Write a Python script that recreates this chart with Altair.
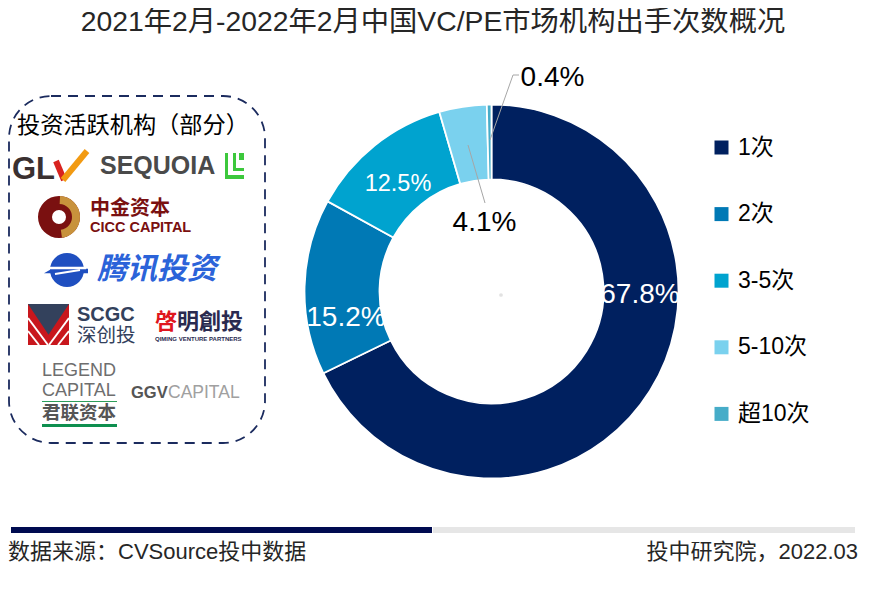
import altair as alt
import pandas as pd

# ---- data ----
categories = ["1次", "2次", "3-5次", "5-10次", "超10次"]
shares = [67.8, 15.2, 12.5, 4.1, 0.4]
colors = ["#00205F", "#0079B5", "#00A3CF", "#7AD1EE", "#46ACC8"]
title_text = "2021年2月-2022年2月中国VC/PE市场机构出手次数概况"
box_title = "投资活跃机构（部分）"
source_text = "数据来源：CVSource投中数据"
credit_text = "投中研究院，2022.03"

FONT = "Liberation Sans, Noto Sans CJK SC"
CJK = "Noto Sans CJK SC, Liberation Sans"
cx, cy = 491.5 - 8, 291.5 - 8


def px(v):
    return alt.value(v - 8)


def base():
    return alt.Chart(alt.Data(values=[{"k": 1}]))


def T(text, x, y, size, color="#000000", align="center", weight="normal", font=FONT, style="normal"):
    return base().mark_text(
        text=text, fontSize=size, color=color, align=align, baseline="middle",
        fontWeight=weight, font=font, fontStyle=style,
    ).encode(x=px(x), y=px(y))


def R(x1, y1, x2, y2, color, width=1.0):
    return base().mark_rule(color=color, strokeWidth=width).encode(
        x=px(x1), y=px(y1), x2=px(x2), y2=px(y2))


def B(x1, y1, x2, y2, color):
    return base().mark_rect(color=color).encode(x=px(x1), y=px(y1), x2=px(x2), y2=px(y2))


def P(path, x, y, w, color):
    return base().mark_point(shape=path, size=w * w, filled=True, color=color, opacity=1,
                             strokeWidth=0).encode(x=px(x), y=px(y))


def A(x, y, r0, r1, t0, t1, color):
    return base().mark_arc(radius=r1, innerRadius=r0, theta=t0, theta2=t1, color=color).encode(
        x=px(x), y=px(y))


df = pd.DataFrame({"cat": categories, "share": shares, "idx": range(len(categories))})

donut = alt.Chart(df).mark_arc(radius=187, innerRadius=112, stroke="#FFFFFF", strokeWidth=1.8).encode(
    x=alt.value(cx),
    y=alt.value(cy),
    theta=alt.Theta("share:Q", stack=True),
    order=alt.Order("idx:Q"),
    color=alt.Color(
        "cat:N",
        scale=alt.Scale(domain=categories, range=colors),
        legend=alt.Legend(
            orient="none", legendX=702, legendY=128, title=None, symbolType="square",
            symbolSize=196, symbolStrokeWidth=0, labelFontSize=23, labelFont=FONT,
            labelColor="#000000", rowPadding=42.6, labelOffset=5,
        ),
    ),
)

layers = [
    # title, footer
    T(title_text, 433, 22.5, 28.3, "#262626"),
    B(11, 527, 432, 533, "#000B50"),
    B(433, 527, 855, 533, "#E6E6E6"),
    T(source_text, 8, 552, 22, "#262626", align="left"),
    T(credit_text, 858, 552, 22, "#262626", align="right"),
    # dashed box
    base().mark_rect(fillOpacity=0, stroke="#1B2B5E", strokeWidth=1.8, strokeDash=[10, 7],
                     cornerRadius=42).encode(x=px(9), y=px(96), x2=px(265), y2=px(443)),
    T(box_title, 17, 126, 23.2, "#000000", align="left"),
    # GLV
    T("GL", 12, 170, 31, "#3A3030", align="left", weight="bold"),
    R(56, 161, 64, 180, "#D8231F", 6),
    R(63, 180, 87, 151, "#F29A12", 6),
    # Sequoia
    T("SEQUOIA", 100, 166, 25, "#4A4A4A", align="left", weight="bold"),
    B(225, 153, 228, 177, "#3CC83C"),
    B(225, 175, 244, 179, "#3CC83C"),
    B(233, 153, 236, 170, "#3CC83C"),
    B(233, 168, 244, 171, "#3CC83C"),
    B(239, 153, 244, 160, "#3CC83C"),
    # CICC
    A(59, 217, 7, 21, 0, 6.2832, "#7A1010"),
    A(59, 217, 13, 21, 0.05, 3.0, "#C8923C"),
    T("中金资本", 90, 209, 20, "#7A1010", align="left", weight="bold", font=CJK),
    T("CICC CAPITAL", 90, 228, 14.5, "#7A1010", align="left", weight="bold"),
    # Tencent
    A(67, 270, 0, 17, 0, 6.2832, "#1F4FC0"),
    P("M-1 0.1 L-0.2 -0.35 L-0.1 -0.1 L1 -0.1 L1 0.1 Z", 66, 271, 44, "#1F4FC0"),
    R(50, 268, 86, 268, "#FFFFFF", 2.5),
    R(55, 274, 80, 270, "#FFFFFF", 2),
    T("腾讯投资", 97, 270, 30, "#2B63D9", align="left", weight="bold", font=CJK, style="italic"),
    # SCGC
    B(28, 304, 69, 345, "#C8171D"),
    R(28, 318, 48, 345, "#FFFFFF", 2),
    R(28, 331, 39, 345, "#FFFFFF", 2),
    R(69, 318, 49, 345, "#FFFFFF", 2),
    R(69, 331, 58, 345, "#FFFFFF", 2),
    P("M-1 -1 L1 -1 L0 0.5 Z", 48.5, 324.5, 41, "#33415C"),
    T("SCGC", 77, 315, 20, "#33415C", align="left", weight="bold"),
    T("深创投", 77, 335.5, 19.5, "#33415C", align="left", font=CJK),
    # Qiming
    T("啓", 155, 322, 22, "#E0161E", align="left", weight="bold", font=CJK),
    T("明創投", 177, 322, 22, "#2A2A50", align="left", weight="bold", font="Noto Sans CJK TC"),
    T("QIMING VENTURE PARTNERS", 155, 339, 6, "#2A2A50", align="left", weight="bold"),
    # Legend Capital
    T("LEGEND", 42, 371, 18, "#6E6E6E", align="left"),
    T("CAPITAL", 42, 390.5, 18, "#6E6E6E", align="left"),
    B(42, 401, 117, 402, "#2E9E5B"),
    T("君联资本", 42, 413, 18.5, "#555555", align="left", weight="bold", font=CJK),
    B(42, 424, 117, 427, "#0E8F4F"),
    # GGV
    T("GGV", 131, 393, 16.5, "#555555", align="left", weight="bold"),
    T("CAPITAL", 168, 393, 17.5, "#A0A0A0", align="left"),
    # donut
    donut,
    base().mark_circle(size=14, color="#E2E2E2", opacity=1).encode(x=px(501), y=px(295)),
    # leaders
    R(468, 145, 485, 203, "#A6A6A6", 1),
    R(490, 140, 513, 75, "#A6A6A6", 1),
    R(513, 75, 519, 75, "#A6A6A6", 1),
    # percentage labels
    T(f"{shares[0]}%", 640, 295, 28, "#FFFFFF"),
    T(f"{shares[1]}%", 346, 318, 28, "#FFFFFF"),
    T(f"{shares[2]}%", 398, 184, 23.5, "#FFFFFF"),
    T(f"{shares[3]}%", 484.5, 223, 28, "#000000"),
    T(f"{shares[4]}%", 552.5, 78, 28, "#000000"),
]

chart = alt.layer(*layers).properties(
    width=856, height=577, padding=0,
    autosize=alt.AutoSizeParams(type="none"),
).configure_view(strokeWidth=0)

chart.save("out.html", embed_options={"renderer": "svg", "actions": False})
